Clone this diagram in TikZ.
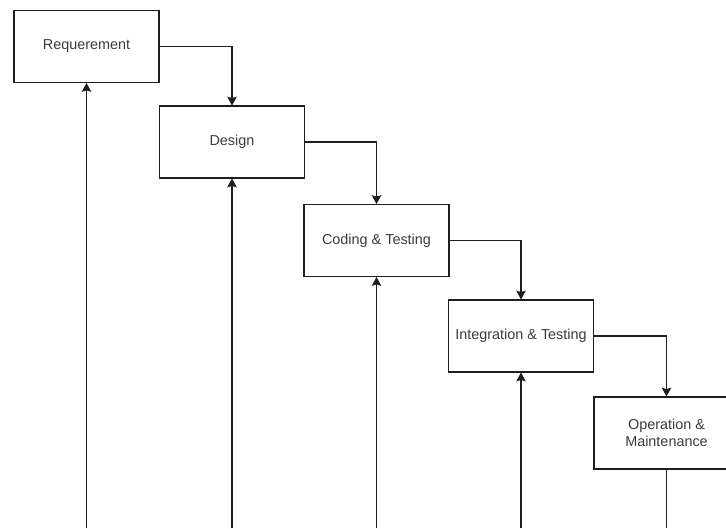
\documentclass[tikz,border=0pt]{standalone}
\usepackage{fontspec}
\setmainfont{Liberation Sans}
\usetikzlibrary{arrows.meta, calc}
\definecolor{LineGray}{RGB}{30,30,30}
\definecolor{TextGray}{RGB}{60,60,60}
\tikzset{
  >=latex,
  % boxes of the phases
  phase/.style={draw=LineGray,line width=0.6pt,fill=white,rectangle,
    minimum width=2.9cm,minimum height=1.44cm,inner sep=1pt,align=center,
    text=TextGray,font=\fontsize{8.2}{10}\selectfont},
  % connectors
  flow/.style={-{Stealth[length=5pt,width=5.4pt,inset=0.8pt]},line width=0.6pt,LineGray},
  back/.style={line width=0.6pt,LineGray}
}
\begin{document}
\begin{tikzpicture}[x=0.02cm,y=-0.02cm]
    \useasboundingbox (0,0) rectangle (726,528);
    \clip (0,0) rectangle (726,528);
    % phases
    \node[phase] (req) at (86.5,46.5) {Requerement};
    \node[phase] (des) at (232,142) {Design};
    \node[phase] (cod) at (376.5,240.5) {Coding \& Testing};
    \node[phase] (int) at (521,336) {Integration \& Testing};
    \node[phase] (ope) at (666.5,433) {Operation \&\\ Maintenance};
    % cascade
    \draw[flow] (req.east) -| (des.north);
    \draw[flow] (des.east) -| (cod.north);
    \draw[flow] (cod.east) -| (int.north);
    \draw[flow] (int.east) -| (ope.north);
    % feedback lines from the bottom
    \coordinate (base) at (0,528);
    \foreach \n in {req,des,cod,int}
      \draw[flow] (\n.south |- base) -- (\n.south);
    \draw[back] (ope.south) -- (ope.south |- base);
  \end{tikzpicture}
\end{document}
